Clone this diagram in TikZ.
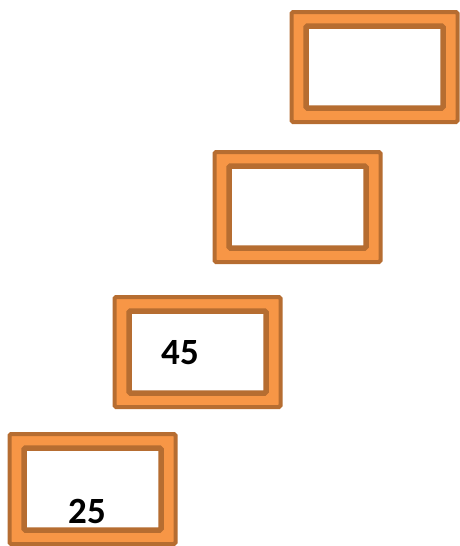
\documentclass[tikz,border=0pt]{standalone}
\usepackage{fontspec}
\setmainfont{Carlito}
\definecolor{frameorange}{HTML}{F79646}
\definecolor{framedark}{HTML}{B66D31}
\begin{document}
\begin{tikzpicture}[x=1pt,y=-1pt,
  outerframe/.style={rectangle,draw=framedark,fill=frameorange,line width=4pt,
    rounded corners=1.5pt,minimum width=166pt,minimum height=110pt,inner sep=0pt},
  innerframe/.style={rectangle,draw=framedark,fill=white,line width=5.5pt,
    rounded corners=1.5pt,minimum width=137pt,minimum height=82pt,inner sep=0pt},
  numlabel/.style={font=\fontsize{37}{40}\selectfont\bfseries,text=black,inner sep=0pt}]
\useasboundingbox (0,0) rectangle (459,546);
\node[outerframe] (o1) at (374.5,67) {};
\node[innerframe] (i1) at (o1.center) {};
\node[outerframe] (o2) at (297.5,207) {};
\node[innerframe] (i2) at (o2.center) {};
\node[outerframe] (o3) at (197.5,352) {};
\node[innerframe] (i3) at (o3.center) {};
\node[outerframe] (o4) at (92.5,489) {};
\node[innerframe] (i4) at (o4.center) {};
\node[numlabel] (t45) at (180,353) {45};
\node[numlabel] (t25) at (87,511) {25};
\end{tikzpicture}
\end{document}
